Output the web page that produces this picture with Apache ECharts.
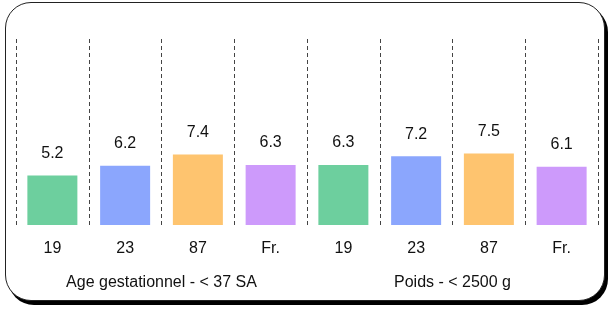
<!DOCTYPE html>
<html>
<head>
<meta charset="utf-8">
<script src="https://cdn.jsdelivr.net/npm/echarts@6/dist/echarts.min.js"></script>
<style>
  html, body { margin: 0; padding: 0; background: #fff; }
  .frame {
    position: absolute;
    left: 5px; top: 2px;
    width: 598px; height: 297px;
    border: 1.5px solid #222;
    border-radius: 26px;
    box-shadow: 3px 4px 0 #000;
    background: #fff;
  }
  #chart { position: absolute; left: 0; top: 0; width: 611px; height: 309px; }
</style>
</head>
<body>
<div class="frame"></div>
<div id="chart"></div>
<script>
// categories and values
const categories = ['19', '23', '87', 'Fr.', '19', '23', '87', 'Fr.']
const groups = ['Age gestationnel - < 37 SA', 'Poids - < 2500 g']
const values = [5.2, 6.2, 7.4, 6.3, 6.3, 7.2, 7.5, 6.1]
const barColors = ['#6dcf9e', '#8ba6fd', '#fec46f', '#cd9afb']

const font = "'Liberation Sans Narrow', 'Liberation Sans', Arial, sans-serif"

const chart = echarts.init(document.getElementById('chart'))
chart.setOption({
  animation: false,
  grid: {
    left: 16,
    right: 13,
    top: 39,
    bottom: 84
  },
  xAxis: [
    {
      type: 'category',
      data: categories,
      axisLine: { show: false },
      axisTick: { show: false },
      axisLabel: {
        color: '#111',
        fontFamily: font,
        fontSize: 16,
        margin: 16
      },
      splitLine: {
        show: true,
        interval: 0,
        lineStyle: {
          color: '#444',
          width: 1,
          type: [4, 3]
        }
      }
    },
    {
      type: 'category',
      data: groups,
      position: 'bottom',
      axisLine: { show: false },
      axisTick: { show: false },
      axisLabel: {
        color: '#111',
        fontFamily: font,
        fontSize: 16,
        margin: 50
      },
      splitLine: { show: false }
    }
  ],
  yAxis: {
    type: 'value',
    min: 0,
    max: 19.5,
    show: false,
    splitLine: { show: false }
  },
  series: [
    {
      type: 'bar',
      xAxisIndex: 0,
      barWidth: 50,
      data: values.map((v, i) => ({
        value: v,
        itemStyle: { color: barColors[i % 4] }
      })),
      label: {
        show: true,
        position: 'top',
        distance: 14,
        color: '#111',
        fontFamily: font,
        fontSize: 16
      }
    }
  ]
})
</script>
</body>
</html>
